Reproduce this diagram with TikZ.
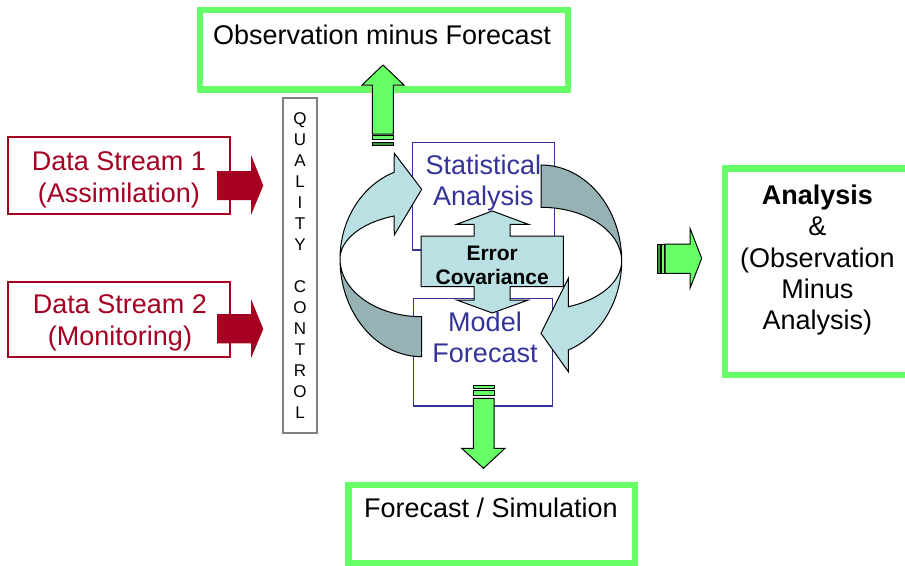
\documentclass[tikz,border=0pt]{standalone}
\usepackage{fontspec}
\setmainfont{Liberation Sans}
\usetikzlibrary{calc}

\definecolor{boxgreen}{HTML}{66FF66}
\definecolor{stripegreen}{HTML}{339933}
\definecolor{streamred}{HTML}{A50021}
\definecolor{modelblue}{HTML}{333399}
\definecolor{cyclelight}{HTML}{BBE0E3}
\definecolor{cycledark}{HTML}{96B2B4}
\definecolor{qcgray}{HTML}{808080}

\tikzset{
  outbox/.style={draw=boxgreen, line width=6.5pt, inner sep=0pt},
  outtext/.style={align=center, inner sep=0pt, font=\fontsize{27}{31.25}\selectfont},
  streambox/.style={draw=streamred, line width=1.3pt, inner sep=0pt},
  streamtext/.style={text=streamred, align=center, inner sep=0pt, font=\fontsize{27}{31.7}\selectfont},
  modelbox/.style={draw=modelblue, line width=1.2pt, inner sep=0pt},
  modeltext/.style={text=modelblue, align=center, inner sep=0pt, font=\fontsize{27}{31}\selectfont},
  qcbox/.style={draw=qcgray, line width=1.3pt, inner sep=0pt, align=center, font=\fontsize{17}{21}\selectfont},
  blockarrow/.style={draw=black, line width=1pt, line join=miter},
}

\begin{document}
\begin{tikzpicture}[x=1pt, y=-1pt]
  \useasboundingbox (0,0) rectangle (905,565);
  \clip (0,0) rectangle (905,565);

  % Output boxes with the green frames
  \node[outbox, minimum width=368pt, minimum height=79.7pt] (omf) at (384,49.85) {};
  \node[outtext] (omf text) at (382,35) {Observation minus Forecast};
  \node[outbox, minimum width=286.7pt, minimum height=78pt] (fcs) at (491.7,524) {};
  \node[outtext] (fcs text) at (490.8,508) {Forecast / Simulation};
  \node[outbox, minimum width=187pt, minimum height=206.7pt] (ana) at (818.5,271.7) {};
  \node[outtext] (ana text) at (817.3,260.2) {\textbf{Analysis}\\\&\\(Observation\\Minus\\Analysis)};

  % Input data streams
  \node[streambox, minimum width=222pt, minimum height=77pt] (ds1) at (119,175.5) {};
  \node[streamtext] (ds1 text) at (119,179.9) {Data Stream 1\\(Assimilation)};
  \node[streambox, minimum width=222pt, minimum height=75pt] (ds2) at (119,319.5) {};
  \node[streamtext] (ds2 text) at (120,323.1) {Data Stream 2\\(Monitoring)};
  \fill[streamred] (217,171) -- (251,171) -- (251,155) -- (263.3,185.5) -- (251,215) -- (251,200) -- (217,200) -- cycle;
  \fill[streamred] (217,314) -- (251,314) -- (251,299) -- (263.3,329) -- (251,358.3) -- (251,343.3) -- (217,343.3) -- cycle;

  % Quality control column
  \node[qcbox, minimum width=34pt, minimum height=335pt] (qc) at (300,265.5)
    {Q\\U\\A\\L\\I\\T\\Y\\[21pt]C\\O\\N\\T\\R\\O\\L};

  % Analysis and forecast boxes
  \node[modelbox, minimum width=142pt, minimum height=107.7pt] (sta) at (483.3,196.2) {};
  \node[modelbox, minimum width=139pt, minimum height=107.7pt] (mod) at (482.8,352.2) {};

  % Error covariance double arrow
  \filldraw[blockarrow, fill=cyclelight] (421,236) -- (474,236) -- (474,224.3) -- (456.7,224.3) -- (492.3,211)
    -- (528.3,224.3) -- (510,224.3) -- (510,236) -- (563.3,236) -- (563.3,286.7) -- (510,286.7)
    -- (510,300) -- (528.3,300) -- (492.3,313) -- (456.7,300) -- (474,300) -- (474,286.7) -- (421,286.7) -- cycle;
  \node[inner sep=0pt, align=center, font=\bfseries\fontsize{21}{24}\selectfont] (err text) at (492.2,265) {Error\\Covariance};

  % Left curved arrow (back part, then front part)
  \filldraw[blockarrow, fill=cycledark] (340,259) arc[start angle=180, end angle=90, x radius=81.7, y radius=97.7]
    -- (421.7,316.7) arc[start angle=90, end angle=180, x radius=81.7, y radius=57.7] -- cycle;
  \filldraw[blockarrow, fill=cyclelight] (394.03,172.34) arc[start angle=250.2, end angle=180, x radius=81.7, y radius=92.1]
    arc[start angle=180, end angle=250.2, x radius=81.7, y radius=45.7]
    -- (394.3,235) -- (421.7,189.3) -- (394.3,153.3) -- cycle;

  % Right curved arrow (back part, then front part)
  \filldraw[blockarrow, fill=cycledark] (541,165) arc[start angle=270, end angle=360, x radius=80.7, y radius=96]
    arc[start angle=0, end angle=-90, x radius=80.7, y radius=53.7] -- cycle;
  \filldraw[blockarrow, fill=cyclelight] (621.7,261) arc[start angle=0, end angle=70.2, x radius=80.7, y radius=94.6]
    -- (568.3,371.7) -- (541,333.3) -- (568.3,278.3) -- (568.3,306.7)
    arc[start angle=70.2, end angle=0, x radius=80.7, y radius=48.6] -- cycle;

  \node[modeltext] (sta text) at (483.3,183.2) {Statistical\\Analysis};
  \node[modeltext] (mod text) at (485,337.5) {Model\\Forecast};

  % Striped green arrows
  \filldraw[blockarrow, fill=boxgreen] (372.3,134) -- (372.3,85) -- (362,85) -- (383,65) -- (404,85) -- (393.3,85) -- (393.3,134) -- cycle;
  \filldraw[blockarrow, fill=boxgreen] (372.3,135.7) rectangle (393.3,139.3);
  \filldraw[blockarrow, fill=stripegreen] (372.3,142.3) rectangle (393.3,145.7);

  \filldraw[blockarrow, fill=boxgreen] (473.3,398.3) -- (494,398.3) -- (494,448.3) -- (505,448.3) -- (483.5,468.3) -- (461.7,448.3) -- (473.3,448.3) -- cycle;
  \filldraw[blockarrow, fill=boxgreen] (473.3,385) rectangle (494,388.3);
  \filldraw[blockarrow, fill=boxgreen] (473.3,390.7) rectangle (494,395.7);

  \filldraw[blockarrow, fill=boxgreen] (665,244) -- (690,244) -- (690,228.3) -- (701.7,258.3) -- (690,288.3) -- (690,273.3) -- (665,273.3) -- cycle;
  \filldraw[blockarrow, fill=stripegreen] (657.3,244) rectangle (660,273.3);
  \filldraw[blockarrow, fill=boxgreen] (661.3,244) rectangle (664,273.3);

\end{tikzpicture}
\end{document}
